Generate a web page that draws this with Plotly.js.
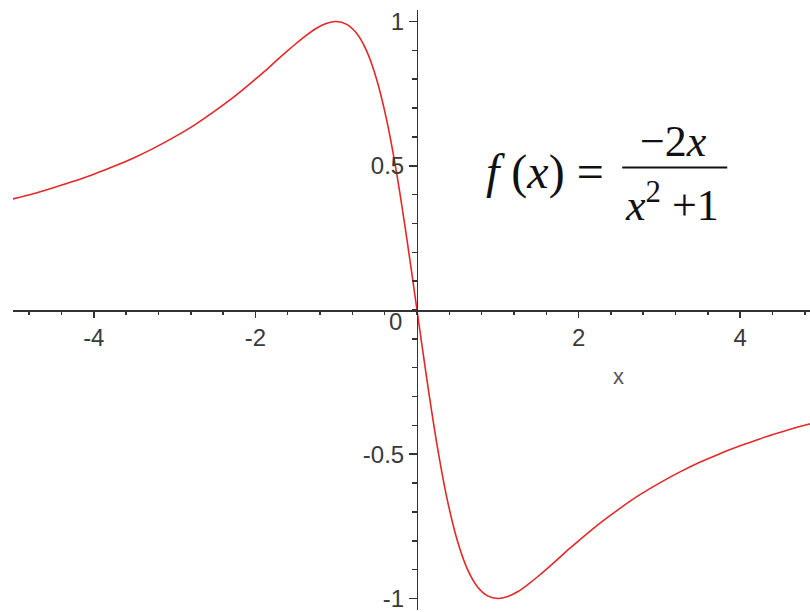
<!DOCTYPE html>
<html>
<head>
<meta charset="utf-8">
<script src="https://cdn.plot.ly/plotly-3.0.1.min.js"></script>
<style>
  html, body { margin: 0; padding: 0; background: white; }
  #chart { width: 810px; height: 612px; }
</style>
</head>
<body>
<div id="chart"></div>
<script>
var xValues = [-5, -4.75, -4.5, -4.25, -4, -3.75, -3.5, -3.25, -3, -2.75, -2.5, -2.25,
  -2, -1.875, -1.75, -1.625, -1.5, -1.375, -1.25, -1.125, -1, -0.875, -0.75, -0.625,
  -0.5, -0.375, -0.25, -0.125, 0, 0.125, 0.25, 0.375, 0.5, 0.625, 0.75, 0.875,
  1, 1.125, 1.25, 1.375, 1.5, 1.625, 1.75, 1.875, 2,
  2.25, 2.5, 2.75, 3, 3.25, 3.5, 3.75, 4, 4.25, 4.5, 4.75, 5];
var yValues = [0.385, 0.403, 0.424, 0.446, 0.471, 0.498, 0.528, 0.562, 0.6, 0.642, 0.69, 0.742,
  0.8, 0.83, 0.862, 0.893, 0.923, 0.951, 0.976, 0.993, 1, 0.991, 0.96, 0.899,
  0.8, 0.658, 0.471, 0.246, 0, -0.246, -0.471, -0.658, -0.8, -0.899, -0.96, -0.991,
  -1, -0.993, -0.976, -0.951, -0.923, -0.893, -0.862, -0.83, -0.8,
  -0.742, -0.69, -0.642, -0.6, -0.562, -0.528, -0.498, -0.471, -0.446, -0.424, -0.403, -0.385];

// tick labels (the 0 at the origin is written once, as an annotation)
var xTickVals = [-4, -2, 2, 4];
var xTickText = ['-4', '-2', '2', '4'];
var yTickVals = [-1, -0.5, 0.5, 1];
var yTickText = ['-1', '-0.5', '0.5', '1'];

var tickFont = { family: 'Liberation Sans, Arial, sans-serif', size: 24, color: '#3a3a3a' };
var mathFont = { family: 'Liberation Serif, Times New Roman, serif', size: 44, color: '#111' };

var trace = {
  x: xValues,
  y: yValues,
  type: 'scatter',
  mode: 'lines',
  line: { color: 'rgb(228,40,40)', width: 1.6, shape: 'spline', smoothing: 0.8 },
  hoverinfo: 'skip'
};

var layout = {
  width: 810,
  height: 612,
  margin: { l: 13, r: 0, t: 10, b: 2 },
  paper_bgcolor: 'white',
  plot_bgcolor: 'white',
  showlegend: false,
  xaxis: {
    range: [-5, 4.864],
    anchor: 'free',
    position: 0.5,
    showgrid: false,
    zeroline: false,
    showline: true,
    linecolor: '#333',
    linewidth: 1.5,
    ticks: 'outside',
    ticklen: 6,
    tickwidth: 1.5,
    tickcolor: '#333',
    tickmode: 'array',
    tickvals: xTickVals,
    ticktext: xTickText,
    tickfont: tickFont,
    ticklabeloverflow: 'allow',
    minor: { tickmode: 'linear', tick0: 0, dtick: 0.4, ticks: 'outside', ticklen: 3, tickwidth: 1.5, tickcolor: '#333', showgrid: false }
  },
  yaxis: {
    range: [-1.04, 1.04],
    anchor: 'free',
    position: 0.5069,
    showgrid: false,
    zeroline: false,
    showline: true,
    linecolor: '#333',
    linewidth: 1.5,
    ticks: 'outside',
    ticklen: 8,
    tickwidth: 1.5,
    tickcolor: '#333',
    tickmode: 'array',
    tickvals: yTickVals,
    ticktext: yTickText,
    tickfont: tickFont,
    ticklabeloverflow: 'allow',
    minor: { tickmode: 'linear', tick0: 0, dtick: 0.1, ticks: 'outside', ticklen: 5, tickwidth: 1.5, tickcolor: '#333', showgrid: false }
  },
  shapes: [
    { type: 'line', xref: 'x', yref: 'y', x0: 2.54, x1: 3.84, y0: 0.494, y1: 0.494,
      line: { color: '#111', width: 2 } }
  ],
  annotations: [
    { x: 0, y: 0, xref: 'x', yref: 'y', text: '0', showarrow: false,
      xanchor: 'right', yanchor: 'middle', xshift: -13, yshift: -11, font: tickFont },
    { x: 2.5, y: -0.23, xref: 'x', yref: 'y', text: 'x', showarrow: false,
      font: { family: 'Liberation Sans, Arial, sans-serif', size: 22, color: '#555' } },
    { x: 1.58, y: 0.48, xref: 'x', yref: 'y', text: '<i>f</i> (<i>x</i>) =', showarrow: false,
      font: { family: mathFont.family, size: 48, color: '#111' } },
    { x: 3.17, y: 0.584, xref: 'x', yref: 'y', text: '\u22122<i>x</i>', showarrow: false,
      font: mathFont },
    { x: 3.16, y: 0.373, xref: 'x', yref: 'y', text: '<i>x</i><sup>2</sup> +1', showarrow: false,
      font: mathFont }
  ]
};

Plotly.newPlot('chart', [trace], layout, { displayModeBar: false, staticPlot: true });
</script>
</body>
</html>
